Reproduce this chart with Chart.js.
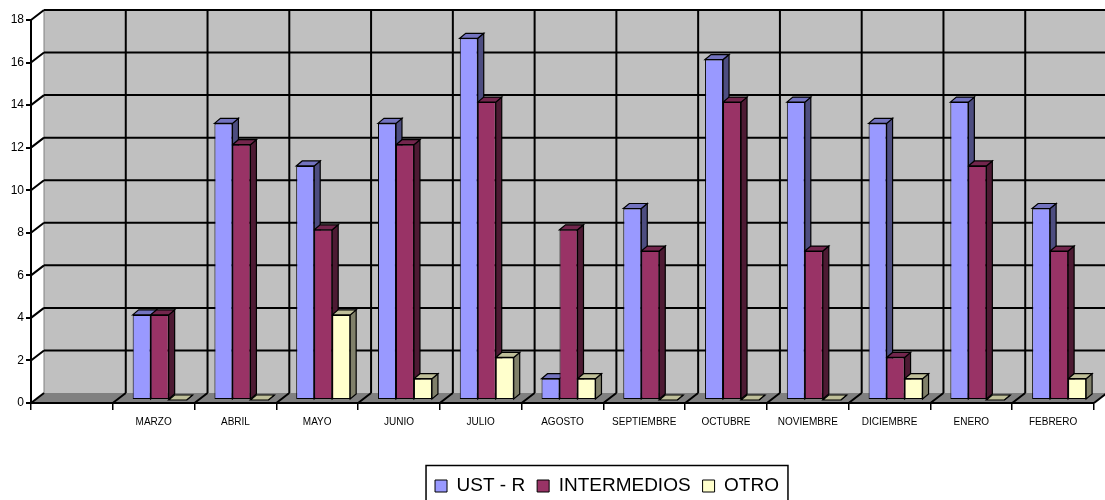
<!DOCTYPE html>
<html>
<head>
<meta charset="utf-8">
<script src="https://cdn.jsdelivr.net/npm/chart.js@4.4.1/dist/chart.umd.min.js"></script>
<style>
  body { margin: 0; background: #fff; }
  #caja { width: 1105px; height: 500px; }
</style>
</head>
<body>
<div id="caja"><canvas id="grafico"></canvas></div>
<script>
// datos
const categorias = ['', 'MARZO', 'ABRIL', 'MAYO', 'JUNIO', 'JULIO', 'AGOSTO', 'SEPTIEMBRE', 'OCTUBRE', 'NOVIEMBRE', 'DICIEMBRE', 'ENERO', 'FEBRERO'];
const ustR = [null, 4, 13, 11, 13, 17, 1, 9, 16, 14, 13, 14, 9];
const intermedios = [null, 4, 12, 8, 12, 14, 8, 7, 14, 7, 2, 11, 7];
const otro = [null, 0, 0, 4, 1, 2, 1, 0, 0, 0, 1, 0, 1];
const marcasY = [0, 2, 4, 6, 8, 10, 12, 14, 16, 18];

const nombres = ['UST - R', 'INTERMEDIOS', 'OTRO'];
const colores = ['#9999ff', '#993366', '#ffffcc'];
const lados = ['#4d4d80', '#4d1a33', '#80806a'];
const tapas = ['#7373bf', '#73264d', '#bfbf99'];

// profundidad del fondo y de las barras
const DX = 13, DY = 10;
const BX = 6, BY = 5;
const fuente = 'Arial, "Liberation Sans", sans-serif';

const fondo3d = {
  id: 'fondo3d',
  beforeDraw(chart) {
    const ctx = chart.ctx;
    const a = chart.chartArea;
    const x = chart.scales.x, y = chart.scales.y;
    ctx.save();
    // pared del fondo
    ctx.fillStyle = '#c0c0c0';
    ctx.fillRect(a.left + DX, a.top - DY, a.right - a.left + 20, a.bottom - a.top);
    ctx.strokeStyle = '#808080';
    ctx.lineWidth = 1;
    ctx.beginPath();
    ctx.moveTo(a.left + DX, a.bottom - DY);
    ctx.lineTo(a.left + DX, a.top - DY);
    ctx.lineTo(a.right + DX + 20, a.top - DY);
    ctx.stroke();
    // piso
    ctx.fillStyle = '#808080';
    ctx.beginPath();
    ctx.moveTo(a.left, a.bottom);
    ctx.lineTo(a.left + DX, a.bottom - DY);
    ctx.lineTo(a.right + DX, a.bottom - DY);
    ctx.lineTo(a.right, a.bottom);
    ctx.closePath();
    ctx.fill();

    ctx.strokeStyle = '#000';
    ctx.lineWidth = 2;
    // lineas horizontales y diagonales de la pared izquierda
    marcasY.forEach(v => {
      const py = y.getPixelForValue(v);
      ctx.beginPath();
      if (v > 0) {
        ctx.moveTo(a.left + DX, py - DY);
        ctx.lineTo(a.right + DX + 20, py - DY);
      }
      ctx.moveTo(a.left, py);
      ctx.lineTo(a.left + DX, py - DY);
      ctx.stroke();
    });
    // lineas verticales entre categorias
    const medio = (x.getPixelForValue(1) - x.getPixelForValue(0)) / 2;
    for (let i = 1; i <= categorias.length; i++) {
      const px = x.getPixelForValue(i) - medio;
      ctx.beginPath();
      if (i < categorias.length) {
        ctx.moveTo(px + DX, a.top - DY);
        ctx.lineTo(px + DX, a.bottom - DY);
      }
      ctx.moveTo(px, a.bottom);
      ctx.lineTo(px + DX, a.bottom - DY);
      ctx.stroke();
    }
    ctx.restore();
  }
};

const barras3d = {
  id: 'barras3d',
  beforeDatasetsDraw(chart) {
    const ctx = chart.ctx;
    ctx.save();
    ctx.translate(6, -3);
    chart.data.datasets.forEach((ds, i) => {
      const meta = chart.getDatasetMeta(i);
      meta.data.forEach((bar, j) => {
        if (ds.data[j] == null) return;
        const p = bar.getProps(['x', 'y', 'base', 'width'], true);
        const l = p.x - p.width / 2, r = p.x + p.width / 2;
        ctx.strokeStyle = '#000';
        ctx.lineWidth = 1.2;
        // lado
        ctx.fillStyle = lados[i];
        ctx.beginPath();
        ctx.moveTo(r, p.y);
        ctx.lineTo(r + BX, p.y - BY);
        ctx.lineTo(r + BX, p.base - BY);
        ctx.lineTo(r, p.base);
        ctx.closePath();
        ctx.fill();
        ctx.stroke();
        // tapa
        ctx.fillStyle = tapas[i];
        ctx.beginPath();
        ctx.moveTo(l, p.y);
        ctx.lineTo(l + BX, p.y - BY);
        ctx.lineTo(r + BX, p.y - BY);
        ctx.lineTo(r, p.y);
        ctx.closePath();
        ctx.fill();
        ctx.stroke();
      });
    });
  },
  afterDatasetsDraw(chart) {
    chart.ctx.restore();
  }
};

// la leyenda del original no esta centrada, se corre a la derecha
const marcoLeyenda = {
  id: 'marcoLeyenda',
  afterLayout(chart) {
    chart.legend.left += 60;
    chart.legend.right += 60;
  },
  afterDraw(chart) {
    const cajas = chart.legend.legendHitBoxes;
    if (!cajas || !cajas.length) return;
    const ctx = chart.ctx;
    const izq = cajas[0].left - 9;
    const ult = cajas[cajas.length - 1];
    const der = ult.left + ult.width + 9;
    const arriba = cajas[0].top - 11;
    ctx.save();
    ctx.strokeStyle = '#000';
    ctx.lineWidth = 1.5;
    ctx.strokeRect(izq, arriba, der - izq, 60);
    ctx.restore();
  }
};

new Chart(document.getElementById('grafico'), {
  type: 'bar',
  data: {
    labels: categorias,
    datasets: [
      { label: nombres[0], data: ustR, backgroundColor: colores[0] },
      { label: nombres[1], data: intermedios, backgroundColor: colores[1] },
      { label: nombres[2], data: otro, backgroundColor: colores[2] }
    ].map(d => Object.assign(d, { borderColor: '#000', borderWidth: 1, clip: false, borderSkipped: false }))
  },
  options: {
    responsive: true,
    maintainAspectRatio: false,
    animation: false,
    categoryPercentage: 0.66,
    barPercentage: 1,
    layout: { padding: { top: 20, right: 11, left: 0, bottom: -5.5 } },
    plugins: {
      tooltip: { enabled: false },
      legend: {
        position: 'bottom',
        labels: {
          boxWidth: 12, boxHeight: 12, padding: 12, color: '#000',
          font: { family: fuente, size: 19 }
        }
      }
    },
    scales: {
      x: {
        afterFit(s) { s.height = 61.5; },
        grid: { drawOnChartArea: false, color: '#000', lineWidth: 1.5, tickLength: 7, offset: true },
        border: { color: '#000', width: 2 },
        ticks: { color: '#000', font: { family: fuente, size: 10 }, padding: 6, maxRotation: 0, autoSkip: false }
      },
      y: {
        min: 0, max: 18,
        afterFit(s) { s.width = 31; },
        grid: { drawOnChartArea: false, color: '#000', lineWidth: 2, tickLength: 5 },
        border: { color: '#000', width: 2 },
        ticks: { stepSize: 2, color: '#000', padding: 2, font: { family: fuente, size: 12 } }
      }
    }
  },
  plugins: [fondo3d, barras3d, marcoLeyenda]
});
</script>
</body>
</html>
